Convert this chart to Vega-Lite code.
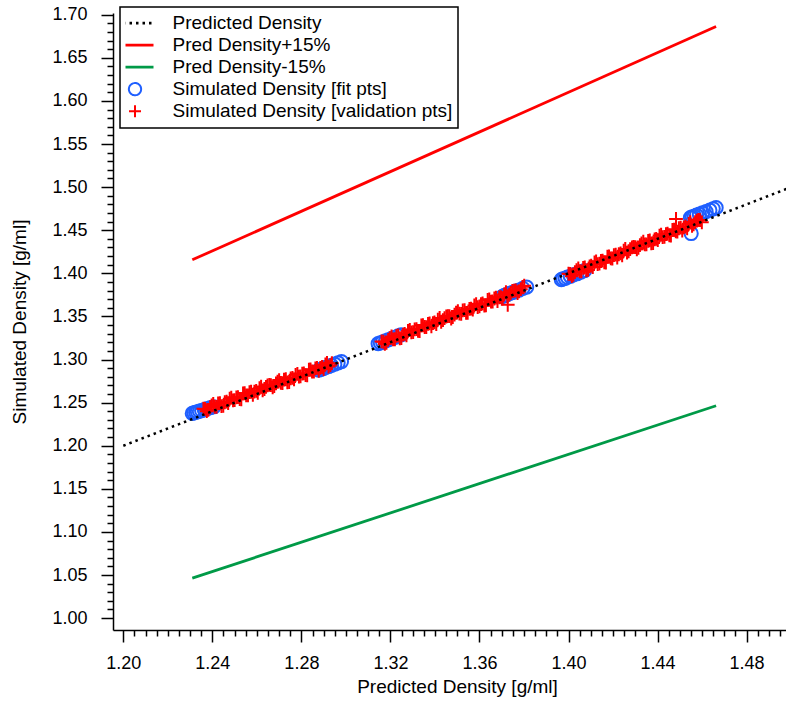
{
  "$schema": "https://vega.github.io/schema/vega-lite/v6.json",
  "width": 673,
  "height": 617,
  "autosize": {"type": "none"},
  "padding": {"left": 113, "top": 13, "right": 0, "bottom": 72},
  "background": "white",
  "config": {
    "view": {"stroke": null},
    "font": "Liberation Sans"
  },
  "datasets": {
    "bounds": [
      {"pred": 1.2310, "sim": 1.41565, "series": "Pred Density+15%"},
      {"pred": 1.4663, "sim": 1.68625, "series": "Pred Density+15%"},
      {"pred": 1.2310, "sim": 1.04635, "series": "Pred Density-15%"},
      {"pred": 1.4663, "sim": 1.24636, "series": "Pred Density-15%"}
    ],
    "ref": [
      {"pred": 1.20, "sim": 1.20, "series": "Predicted Density"},
      {"pred": 1.50, "sim": 1.50, "series": "Predicted Density"}
    ],
    "fit": [
      {"pred": 1.2310, "sim": 1.2375, "series": "Simulated Density [fit pts]"},
      {"pred": 1.2317, "sim": 1.2381, "series": "Simulated Density [fit pts]"},
      {"pred": 1.2325, "sim": 1.2388, "series": "Simulated Density [fit pts]"},
      {"pred": 1.2333, "sim": 1.2394, "series": "Simulated Density [fit pts]"},
      {"pred": 1.2342, "sim": 1.2401, "series": "Simulated Density [fit pts]"},
      {"pred": 1.2352, "sim": 1.2408, "series": "Simulated Density [fit pts]"},
      {"pred": 1.2364, "sim": 1.2419, "series": "Simulated Density [fit pts]"},
      {"pred": 1.2377, "sim": 1.2429, "series": "Simulated Density [fit pts]"},
      {"pred": 1.2392, "sim": 1.2441, "series": "Simulated Density [fit pts]"},
      {"pred": 1.2407, "sim": 1.2452, "series": "Simulated Density [fit pts]"},
      {"pred": 1.2878, "sim": 1.2878, "series": "Simulated Density [fit pts]"},
      {"pred": 1.2888, "sim": 1.2886, "series": "Simulated Density [fit pts]"},
      {"pred": 1.2898, "sim": 1.2895, "series": "Simulated Density [fit pts]"},
      {"pred": 1.2910, "sim": 1.2908, "series": "Simulated Density [fit pts]"},
      {"pred": 1.2922, "sim": 1.2919, "series": "Simulated Density [fit pts]"},
      {"pred": 1.2935, "sim": 1.2932, "series": "Simulated Density [fit pts]"},
      {"pred": 1.2950, "sim": 1.2946, "series": "Simulated Density [fit pts]"},
      {"pred": 1.2965, "sim": 1.2962, "series": "Simulated Density [fit pts]"},
      {"pred": 1.2980, "sim": 1.2976, "series": "Simulated Density [fit pts]"},
      {"pred": 1.3145, "sim": 1.3183, "series": "Simulated Density [fit pts]"},
      {"pred": 1.3155, "sim": 1.3193, "series": "Simulated Density [fit pts]"},
      {"pred": 1.3165, "sim": 1.3203, "series": "Simulated Density [fit pts]"},
      {"pred": 1.3178, "sim": 1.3216, "series": "Simulated Density [fit pts]"},
      {"pred": 1.3190, "sim": 1.3228, "series": "Simulated Density [fit pts]"},
      {"pred": 1.3205, "sim": 1.3243, "series": "Simulated Density [fit pts]"},
      {"pred": 1.3220, "sim": 1.3258, "series": "Simulated Density [fit pts]"},
      {"pred": 1.3235, "sim": 1.3273, "series": "Simulated Density [fit pts]"},
      {"pred": 1.3248, "sim": 1.3287, "series": "Simulated Density [fit pts]"},
      {"pred": 1.3702, "sim": 1.3730, "series": "Simulated Density [fit pts]"},
      {"pred": 1.3712, "sim": 1.3743, "series": "Simulated Density [fit pts]"},
      {"pred": 1.3722, "sim": 1.3750, "series": "Simulated Density [fit pts]"},
      {"pred": 1.3735, "sim": 1.3766, "series": "Simulated Density [fit pts]"},
      {"pred": 1.3748, "sim": 1.3777, "series": "Simulated Density [fit pts]"},
      {"pred": 1.3762, "sim": 1.3793, "series": "Simulated Density [fit pts]"},
      {"pred": 1.3778, "sim": 1.3806, "series": "Simulated Density [fit pts]"},
      {"pred": 1.3795, "sim": 1.3826, "series": "Simulated Density [fit pts]"},
      {"pred": 1.3812, "sim": 1.3840, "series": "Simulated Density [fit pts]"},
      {"pred": 1.3968, "sim": 1.3926, "series": "Simulated Density [fit pts]"},
      {"pred": 1.3975, "sim": 1.3935, "series": "Simulated Density [fit pts]"},
      {"pred": 1.3985, "sim": 1.3942, "series": "Simulated Density [fit pts]"},
      {"pred": 1.3995, "sim": 1.3955, "series": "Simulated Density [fit pts]"},
      {"pred": 1.4008, "sim": 1.3966, "series": "Simulated Density [fit pts]"},
      {"pred": 1.4022, "sim": 1.3982, "series": "Simulated Density [fit pts]"},
      {"pred": 1.4038, "sim": 1.3995, "series": "Simulated Density [fit pts]"},
      {"pred": 1.4055, "sim": 1.4014, "series": "Simulated Density [fit pts]"},
      {"pred": 1.4072, "sim": 1.4030, "series": "Simulated Density [fit pts]"},
      {"pred": 1.4548, "sim": 1.4645, "series": "Simulated Density [fit pts]"},
      {"pred": 1.4556, "sim": 1.4655, "series": "Simulated Density [fit pts]"},
      {"pred": 1.4565, "sim": 1.4662, "series": "Simulated Density [fit pts]"},
      {"pred": 1.4575, "sim": 1.4674, "series": "Simulated Density [fit pts]"},
      {"pred": 1.4588, "sim": 1.4686, "series": "Simulated Density [fit pts]"},
      {"pred": 1.4602, "sim": 1.4700, "series": "Simulated Density [fit pts]"},
      {"pred": 1.4618, "sim": 1.4715, "series": "Simulated Density [fit pts]"},
      {"pred": 1.4635, "sim": 1.4732, "series": "Simulated Density [fit pts]"},
      {"pred": 1.4650, "sim": 1.4748, "series": "Simulated Density [fit pts]"},
      {"pred": 1.4663, "sim": 1.4762, "series": "Simulated Density [fit pts]"},
      {"pred": 1.4551, "sim": 1.4462, "series": "Simulated Density [fit pts]"}
    ],
    "validation": [
      {"pred": 1.2360, "sim": 1.2430}, {"pred": 1.2375, "sim": 1.2400}, {"pred": 1.2390, "sim": 1.2446}, {"pred": 1.2404, "sim": 1.2485},
      {"pred": 1.2419, "sim": 1.2451}, {"pred": 1.2434, "sim": 1.2495}, {"pred": 1.2449, "sim": 1.2463}, {"pred": 1.2464, "sim": 1.2511},
      {"pred": 1.2478, "sim": 1.2546}, {"pred": 1.2493, "sim": 1.2526}, {"pred": 1.2508, "sim": 1.2560}, {"pred": 1.2523, "sim": 1.2542},
      {"pred": 1.2538, "sim": 1.2606}, {"pred": 1.2552, "sim": 1.2585}, {"pred": 1.2567, "sim": 1.2621}, {"pred": 1.2582, "sim": 1.2591},
      {"pred": 1.2597, "sim": 1.2637}, {"pred": 1.2612, "sim": 1.2667}, {"pred": 1.2626, "sim": 1.2642}, {"pred": 1.2641, "sim": 1.2682},
      {"pred": 1.2656, "sim": 1.2706}, {"pred": 1.2671, "sim": 1.2676}, {"pred": 1.2686, "sim": 1.2722}, {"pred": 1.2700, "sim": 1.2761},
      {"pred": 1.2715, "sim": 1.2727}, {"pred": 1.2730, "sim": 1.2771}, {"pred": 1.2745, "sim": 1.2739}, {"pred": 1.2760, "sim": 1.2787},
      {"pred": 1.2774, "sim": 1.2822}, {"pred": 1.2789, "sim": 1.2802}, {"pred": 1.2804, "sim": 1.2836}, {"pred": 1.2819, "sim": 1.2818},
      {"pred": 1.2834, "sim": 1.2882}, {"pred": 1.2848, "sim": 1.2861}, {"pred": 1.2863, "sim": 1.2897}, {"pred": 1.2878, "sim": 1.2867},
      {"pred": 1.2893, "sim": 1.2913}, {"pred": 1.2908, "sim": 1.2943}, {"pred": 1.2922, "sim": 1.2918}, {"pred": 1.2937, "sim": 1.2958},
      {"pred": 1.2367, "sim": 1.2427}, {"pred": 1.2382, "sim": 1.2415}, {"pred": 1.2397, "sim": 1.2467}, {"pred": 1.2411, "sim": 1.2452},
      {"pred": 1.2426, "sim": 1.2490}, {"pred": 1.2441, "sim": 1.2460}, {"pred": 1.2456, "sim": 1.2504}, {"pred": 1.2471, "sim": 1.2494},
      {"pred": 1.2485, "sim": 1.2557}, {"pred": 1.2500, "sim": 1.2529}, {"pred": 1.2515, "sim": 1.2563}, {"pred": 1.2530, "sim": 1.2539},
      {"pred": 1.2545, "sim": 1.2609}, {"pred": 1.2560, "sim": 1.2583}, {"pred": 1.2574, "sim": 1.2626}, {"pred": 1.2589, "sim": 1.2628},
      {"pred": 1.2604, "sim": 1.2614}, {"pred": 1.2619, "sim": 1.2686}, {"pred": 1.2634, "sim": 1.2658}, {"pred": 1.2648, "sim": 1.2699},
      {"pred": 1.2663, "sim": 1.2703}, {"pred": 1.2678, "sim": 1.2691}, {"pred": 1.2693, "sim": 1.2743}, {"pred": 1.2708, "sim": 1.2729},
      {"pred": 1.2722, "sim": 1.2766}, {"pred": 1.2737, "sim": 1.2736}, {"pred": 1.2752, "sim": 1.2780}, {"pred": 1.2767, "sim": 1.2770},
      {"pred": 1.2782, "sim": 1.2834}, {"pred": 1.2796, "sim": 1.2805}, {"pred": 1.2811, "sim": 1.2839}, {"pred": 1.2826, "sim": 1.2815},
      {"pred": 1.2841, "sim": 1.2885}, {"pred": 1.2856, "sim": 1.2859}, {"pred": 1.2870, "sim": 1.2902}, {"pred": 1.2885, "sim": 1.2904},
      {"pred": 1.2900, "sim": 1.2890}, {"pred": 1.2915, "sim": 1.2962}, {"pred": 1.2930, "sim": 1.2934},
      {"pred": 1.3160, "sim": 1.3210}, {"pred": 1.3175, "sim": 1.3181}, {"pred": 1.3190, "sim": 1.3228}, {"pred": 1.3205, "sim": 1.3268},
      {"pred": 1.3220, "sim": 1.3235}, {"pred": 1.3235, "sim": 1.3280}, {"pred": 1.3249, "sim": 1.3248}, {"pred": 1.3264, "sim": 1.3297},
      {"pred": 1.3279, "sim": 1.3333}, {"pred": 1.3294, "sim": 1.3314}, {"pred": 1.3309, "sim": 1.3349}, {"pred": 1.3324, "sim": 1.3332},
      {"pred": 1.3339, "sim": 1.3397}, {"pred": 1.3354, "sim": 1.3377}, {"pred": 1.3369, "sim": 1.3414}, {"pred": 1.3384, "sim": 1.3385},
      {"pred": 1.3398, "sim": 1.3431}, {"pred": 1.3413, "sim": 1.3462}, {"pred": 1.3428, "sim": 1.3438}, {"pred": 1.3443, "sim": 1.3479},
      {"pred": 1.3458, "sim": 1.3504}, {"pred": 1.3473, "sim": 1.3475}, {"pred": 1.3488, "sim": 1.3522}, {"pred": 1.3503, "sim": 1.3562},
      {"pred": 1.3518, "sim": 1.3529}, {"pred": 1.3533, "sim": 1.3574}, {"pred": 1.3547, "sim": 1.3542}, {"pred": 1.3562, "sim": 1.3591},
      {"pred": 1.3577, "sim": 1.3627}, {"pred": 1.3592, "sim": 1.3608}, {"pred": 1.3607, "sim": 1.3643}, {"pred": 1.3622, "sim": 1.3626},
      {"pred": 1.3637, "sim": 1.3691}, {"pred": 1.3652, "sim": 1.3671}, {"pred": 1.3667, "sim": 1.3708}, {"pred": 1.3681, "sim": 1.3678},
      {"pred": 1.3696, "sim": 1.3725}, {"pred": 1.3711, "sim": 1.3756}, {"pred": 1.3726, "sim": 1.3732}, {"pred": 1.3741, "sim": 1.3773},
      {"pred": 1.3756, "sim": 1.3798}, {"pred": 1.3771, "sim": 1.3769}, {"pred": 1.3786, "sim": 1.3816}, {"pred": 1.3801, "sim": 1.3856},
      {"pred": 1.3168, "sim": 1.3206}, {"pred": 1.3182, "sim": 1.3194}, {"pred": 1.3197, "sim": 1.3247}, {"pred": 1.3212, "sim": 1.3234},
      {"pred": 1.3227, "sim": 1.3273}, {"pred": 1.3242, "sim": 1.3244}, {"pred": 1.3257, "sim": 1.3289}, {"pred": 1.3272, "sim": 1.3280},
      {"pred": 1.3287, "sim": 1.3345}, {"pred": 1.3302, "sim": 1.3318}, {"pred": 1.3317, "sim": 1.3353}, {"pred": 1.3331, "sim": 1.3329},
      {"pred": 1.3346, "sim": 1.3400}, {"pred": 1.3361, "sim": 1.3375}, {"pred": 1.3376, "sim": 1.3420}, {"pred": 1.3391, "sim": 1.3423},
      {"pred": 1.3406, "sim": 1.3410}, {"pred": 1.3421, "sim": 1.3483}, {"pred": 1.3436, "sim": 1.3456}, {"pred": 1.3451, "sim": 1.3499},
      {"pred": 1.3465, "sim": 1.3503}, {"pred": 1.3480, "sim": 1.3492}, {"pred": 1.3495, "sim": 1.3545}, {"pred": 1.3510, "sim": 1.3532},
      {"pred": 1.3525, "sim": 1.3571}, {"pred": 1.3540, "sim": 1.3542}, {"pred": 1.3555, "sim": 1.3587}, {"pred": 1.3570, "sim": 1.3578},
      {"pred": 1.3585, "sim": 1.3643}, {"pred": 1.3600, "sim": 1.3616}, {"pred": 1.3614, "sim": 1.3650}, {"pred": 1.3629, "sim": 1.3627},
      {"pred": 1.3644, "sim": 1.3698}, {"pred": 1.3659, "sim": 1.3673}, {"pred": 1.3674, "sim": 1.3718}, {"pred": 1.3689, "sim": 1.3721},
      {"pred": 1.3704, "sim": 1.3708}, {"pred": 1.3719, "sim": 1.3781}, {"pred": 1.3734, "sim": 1.3754}, {"pred": 1.3748, "sim": 1.3796},
      {"pred": 1.3763, "sim": 1.3801}, {"pred": 1.3778, "sim": 1.3790}, {"pred": 1.3793, "sim": 1.3843},
      {"pred": 1.3727, "sim": 1.3635},
      {"pred": 1.4000, "sim": 1.3995}, {"pred": 1.4015, "sim": 1.3967}, {"pred": 1.4029, "sim": 1.4014}, {"pred": 1.4044, "sim": 1.4056},
      {"pred": 1.4058, "sim": 1.4023}, {"pred": 1.4073, "sim": 1.4069}, {"pred": 1.4088, "sim": 1.4039}, {"pred": 1.4102, "sim": 1.4088},
      {"pred": 1.4117, "sim": 1.4126}, {"pred": 1.4131, "sim": 1.4107}, {"pred": 1.4146, "sim": 1.4143}, {"pred": 1.4161, "sim": 1.4127},
      {"pred": 1.4175, "sim": 1.4192}, {"pred": 1.4190, "sim": 1.4174}, {"pred": 1.4204, "sim": 1.4211}, {"pred": 1.4219, "sim": 1.4183},
      {"pred": 1.4234, "sim": 1.4231}, {"pred": 1.4248, "sim": 1.4262}, {"pred": 1.4263, "sim": 1.4240}, {"pred": 1.4277, "sim": 1.4281},
      {"pred": 1.4292, "sim": 1.4307}, {"pred": 1.4307, "sim": 1.4279}, {"pred": 1.4321, "sim": 1.4326}, {"pred": 1.4336, "sim": 1.4368},
      {"pred": 1.4350, "sim": 1.4335}, {"pred": 1.4365, "sim": 1.4381}, {"pred": 1.4380, "sim": 1.4351}, {"pred": 1.4394, "sim": 1.4400},
      {"pred": 1.4409, "sim": 1.4438}, {"pred": 1.4423, "sim": 1.4419}, {"pred": 1.4438, "sim": 1.4455}, {"pred": 1.4453, "sim": 1.4439},
      {"pred": 1.4467, "sim": 1.4504}, {"pred": 1.4482, "sim": 1.4486}, {"pred": 1.4496, "sim": 1.4523}, {"pred": 1.4511, "sim": 1.4495},
      {"pred": 1.4526, "sim": 1.4543}, {"pred": 1.4540, "sim": 1.4574}, {"pred": 1.4555, "sim": 1.4552}, {"pred": 1.4569, "sim": 1.4593},
      {"pred": 1.4584, "sim": 1.4619}, {"pred": 1.4599, "sim": 1.4591},
      {"pred": 1.4007, "sim": 1.3993}, {"pred": 1.4022, "sim": 1.3983}, {"pred": 1.4036, "sim": 1.4036}, {"pred": 1.4051, "sim": 1.4024},
      {"pred": 1.4066, "sim": 1.4064}, {"pred": 1.4080, "sim": 1.4035}, {"pred": 1.4095, "sim": 1.4081}, {"pred": 1.4109, "sim": 1.4072},
      {"pred": 1.4124, "sim": 1.4138}, {"pred": 1.4139, "sim": 1.4112}, {"pred": 1.4153, "sim": 1.4147}, {"pred": 1.4168, "sim": 1.4125},
      {"pred": 1.4182, "sim": 1.4196}, {"pred": 1.4197, "sim": 1.4172}, {"pred": 1.4212, "sim": 1.4218}, {"pred": 1.4226, "sim": 1.4221},
      {"pred": 1.4241, "sim": 1.4209}, {"pred": 1.4255, "sim": 1.4282}, {"pred": 1.4270, "sim": 1.4256}, {"pred": 1.4285, "sim": 1.4300},
      {"pred": 1.4299, "sim": 1.4305}, {"pred": 1.4314, "sim": 1.4295}, {"pred": 1.4328, "sim": 1.4348}, {"pred": 1.4343, "sim": 1.4336},
      {"pred": 1.4358, "sim": 1.4376}, {"pred": 1.4372, "sim": 1.4347}, {"pred": 1.4387, "sim": 1.4393}, {"pred": 1.4401, "sim": 1.4384},
      {"pred": 1.4416, "sim": 1.4450}, {"pred": 1.4431, "sim": 1.4424}, {"pred": 1.4445, "sim": 1.4459}, {"pred": 1.4460, "sim": 1.4437},
      {"pred": 1.4474, "sim": 1.4508}, {"pred": 1.4489, "sim": 1.4484}, {"pred": 1.4504, "sim": 1.4530}, {"pred": 1.4518, "sim": 1.4533},
      {"pred": 1.4533, "sim": 1.4521}, {"pred": 1.4547, "sim": 1.4594}, {"pred": 1.4562, "sim": 1.4568}, {"pred": 1.4577, "sim": 1.4612},
      {"pred": 1.4591, "sim": 1.4617},
      {"pred": 1.4483, "sim": 1.4630}
    ]
  },
  "encoding": {
    "x": {
      "field": "pred",
      "type": "quantitative",
      "scale": {"domain": [1.19537, 1.49771], "nice": false, "zero": false},
      "axis": {
        "title": "Predicted Density [g/ml]",
        "values": [1.2, 1.205, 1.21, 1.215, 1.22, 1.225, 1.23, 1.235, 1.24, 1.245, 1.25, 1.255, 1.26, 1.265, 1.27, 1.275, 1.28, 1.285, 1.29, 1.295, 1.3, 1.305, 1.31, 1.315, 1.32, 1.325, 1.33, 1.335, 1.34, 1.345, 1.35, 1.355, 1.36, 1.365, 1.37, 1.375, 1.38, 1.385, 1.39, 1.395, 1.4, 1.405, 1.41, 1.415, 1.42, 1.425, 1.43, 1.435, 1.44, 1.445, 1.45, 1.455, 1.46, 1.465, 1.47, 1.475, 1.48, 1.485, 1.49, 1.495],
        "labelExpr": "abs(datum.value * 25 - round(datum.value * 25)) < 0.001 ? format(datum.value, '.2f') : ''",
        "tickSize": {"condition": {"test": "abs(datum.value * 25 - round(datum.value * 25)) < 0.001", "value": 12}, "value": 6},
        "grid": false,
        "domainColor": "black",
        "domainWidth": 1.5,
        "tickColor": "black",
        "tickWidth": 1.5,
        "labelFont": "Liberation Sans",
        "labelFontSize": 18,
        "labelColor": "black",
        "labelPadding": 12,
        "labelFlush": false,
        "labelOverlap": false,
        "titleFont": "Liberation Sans",
        "titleFontSize": 19,
        "titleFontWeight": "normal",
        "titleColor": "black",
        "titlePadding": 5,
        "titleX": 344
      }
    },
    "y": {
      "field": "sim",
      "type": "quantitative",
      "scale": {"domain": [0.9862, 1.702], "nice": false, "zero": false},
      "axis": {
        "title": "Simulated Density [g/ml]",
        "values": [1, 1.01, 1.02, 1.03, 1.04, 1.05, 1.06, 1.07, 1.08, 1.09, 1.1, 1.11, 1.12, 1.13, 1.14, 1.15, 1.16, 1.17, 1.18, 1.19, 1.2, 1.21, 1.22, 1.23, 1.24, 1.25, 1.26, 1.27, 1.28, 1.29, 1.3, 1.31, 1.32, 1.33, 1.34, 1.35, 1.36, 1.37, 1.38, 1.39, 1.4, 1.41, 1.42, 1.43, 1.44, 1.45, 1.46, 1.47, 1.48, 1.49, 1.5, 1.51, 1.52, 1.53, 1.54, 1.55, 1.56, 1.57, 1.58, 1.59, 1.6, 1.61, 1.62, 1.63, 1.64, 1.65, 1.66, 1.67, 1.68, 1.69, 1.7],
        "labelExpr": "abs(datum.value * 20 - round(datum.value * 20)) < 0.001 ? format(datum.value, '.2f') : ''",
        "tickSize": {"condition": {"test": "abs(datum.value * 20 - round(datum.value * 20)) < 0.001", "value": 12}, "value": 6},
        "grid": false,
        "domainColor": "black",
        "domainWidth": 1.5,
        "tickColor": "black",
        "tickWidth": 1.5,
        "labelFont": "Liberation Sans",
        "labelFontSize": 18,
        "labelColor": "black",
        "labelPadding": 14,
        "labelFlush": false,
        "labelOverlap": false,
        "titleFont": "Liberation Sans",
        "titleFontSize": 19,
        "titleFontWeight": "normal",
        "titleColor": "black",
        "titlePadding": 22
      }
    }
  },
  "layer": [
    {
      "data": {"name": "bounds"},
      "mark": {"type": "line", "strokeWidth": 2.8},
      "encoding": {
        "color": {
          "field": "series",
          "type": "nominal",
          "scale": {
            "domain": ["Predicted Density", "Pred Density+15%", "Pred Density-15%", "Simulated Density [fit pts]", "Simulated Density [validation pts]"],
            "range": ["black", "#ff0000", "#009a47", "#1f5fff", "#ff0000"]
          },
          "legend": {
            "title": null,
            "orient": "none",
            "legendX": 7,
            "legendY": -6,
            "padding": 5.5,
            "strokeColor": "black",
            "fillColor": "white",
            "labelFont": "Liberation Sans",
            "labelFontSize": 19,
            "labelColor": "black",
            "labelOffset": 28,
            "labelLimit": 500,
            "clipHeight": 21.3,
            "rowPadding": 0,
            "symbolSize": 1369,
            "symbolStrokeWidth": 2,
            "symbolLimit": 0,
            "encode": {
              "legend": {
                "update": {
                  "strokeWidth": {"value": 1.5}
                }
              },
              "symbols": {
                "update": {
                  "size": {"signal": "datum.value === 'Simulated Density [fit pts]' ? 150 : datum.value === 'Simulated Density [validation pts]' ? 144 : 1369"},
                  "strokeWidth": {"signal": "datum.value === 'Simulated Density [fit pts]' ? 2 : datum.value === 'Simulated Density [validation pts]' ? 2 : 2.8"},
                  "strokeDash": {"signal": "datum.value === 'Predicted Density' ? [2.5, 4] : [1, 0]"},
                  "fill": {"value": "transparent"},
                  "fillOpacity": {"value": 0},
                  "opacity": {"value": 1}
                }
              }
            }
          }
        },
        "shape": {
          "field": "series",
          "type": "nominal",
          "scale": {
            "domain": ["Predicted Density", "Pred Density+15%", "Pred Density-15%", "Simulated Density [fit pts]", "Simulated Density [validation pts]"],
            "range": ["M-1,0H1", "M-1,0H1", "M-1,0H1", "circle", "M-1,0H1M0,-1V1"]
          }
        },
        "detail": {"field": "series", "type": "nominal"}
      }
    },
    {
      "data": {"name": "fit"},
      "mark": {"type": "point", "filled": false, "strokeWidth": 2, "size": 175, "opacity": 1},
      "encoding": {
        "color": {"field": "series", "type": "nominal"},
        "shape": {"field": "series", "type": "nominal"}
      }
    },
    {
      "data": {"name": "validation"},
      "mark": {"type": "point", "filled": false, "strokeWidth": 2, "size": 190, "opacity": 1},
      "encoding": {
        "color": {"datum": "Simulated Density [validation pts]", "type": "nominal"},
        "shape": {"datum": "Simulated Density [validation pts]", "type": "nominal"}
      }
    },
    {
      "data": {"name": "ref"},
      "mark": {"type": "line", "strokeWidth": 2.5, "strokeDash": [2.5, 4], "clip": true},
      "encoding": {
        "color": {"field": "series", "type": "nominal"}
      }
    }
  ]
}
